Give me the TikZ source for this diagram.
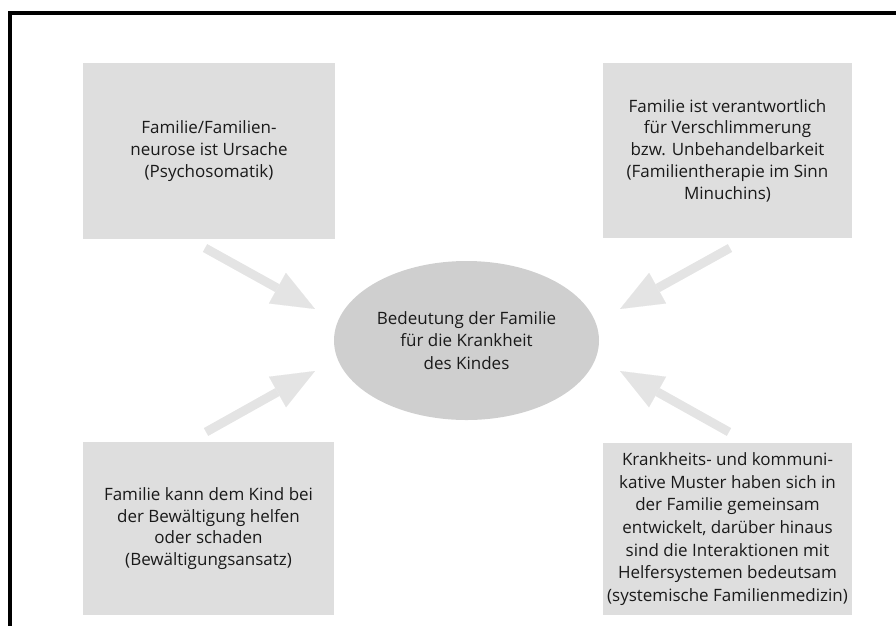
\documentclass[tikz,border=0pt]{standalone}
\usepackage{fontspec}
\setmainfont{Open Sans}
\usetikzlibrary{shapes.geometric,arrows.meta}
\definecolor{boxgray}{HTML}{DEDEDE}
\definecolor{ellgray}{HTML}{CFCFCF}
\definecolor{arrgray}{HTML}{E4E4E4}
\definecolor{txt}{HTML}{1A1A1A}
\tikzset{
  infobox/.style={rectangle, fill=boxgray, inner sep=0pt, align=center, text=txt,
    font=\fontsize{17pt}{21.7pt}\selectfont},
  centerell/.style={ellipse, fill=ellgray, inner sep=0pt, align=center, text=txt,
    minimum width=265pt, minimum height=159pt,
    font=\fontsize{17pt}{22.5pt}\selectfont},
  bigarrow/.style={draw=arrgray, line width=9pt,
    -{Triangle[width=35pt,length=43pt,line width=0.1pt]}},
  frameline/.style={line width=4pt, line join=miter}
}
\begin{document}
\begin{tikzpicture}[x=1pt,y=1pt]
\useasboundingbox (0,0) rectangle (896,-625);
% frame
\draw[frameline] (9.5,-627) -- (9.5,-13) -- (898,-13);
% boxes
\node[infobox, minimum width=252pt, minimum height=176pt] (tl) at (209,-151)
  {Familie/Familien-\\neurose ist Ursache\\(Psychosomatik)};
\node[infobox, minimum width=249pt, minimum height=175pt] (tr) at (727.5,-150.5)
  {Familie ist verantwortlich\\für Verschlimmerung\\bzw. Unbehandelbarkeit\\(Familientherapie im Sinn\\Minuchins)};
\node[infobox, minimum width=251pt, minimum height=173pt] (bl) at (208.5,-528.5)
  {Familie kann dem Kind bei\\der Bewältigung helfen\\oder schaden\\(Bewältigungsansatz)};
\node[infobox, minimum width=249pt, minimum height=172pt,
  font=\fontsize{17pt}{22.6pt}\selectfont] (br) at (727.5,-529)
  {Krankheits- und kommuni-\\kative Muster haben sich in\\der Familie gemeinsam\\entwickelt, darüber hinaus\\sind die Interaktionen mit\\Helfersystemen bedeutsam\\(systemische Familienmedizin)};
% center
\node[centerell] (c) at (466.5,-340.5)
  {Bedeutung der Familie\\für die Krankheit\\des Kindes};
% arrow end points
\coordinate (a1s) at (205,-248);
\coordinate (a1e) at (315,-309);
\coordinate (a2s) at (730,-248);
\coordinate (a2e) at (620,-309);
\coordinate (a3s) at (206,-432);
\coordinate (a3e) at (315,-371);
\coordinate (a4s) at (729,-432);
\coordinate (a4e) at (620,-371);
\draw[bigarrow] (a1s) -- (a1e);
\draw[bigarrow] (a2s) -- (a2e);
\draw[bigarrow] (a3s) -- (a3e);
\draw[bigarrow] (a4s) -- (a4e);
\end{tikzpicture}
\end{document}
